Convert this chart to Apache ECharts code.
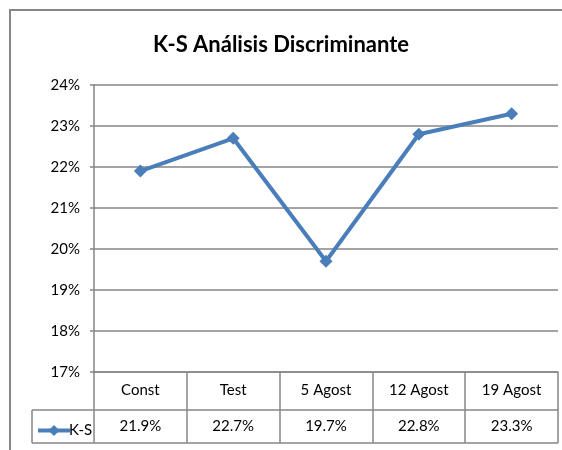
<!DOCTYPE html>
<html>
<head>
<meta charset="utf-8">
<script src="https://cdn.jsdelivr.net/npm/echarts@6/dist/echarts.min.js"></script>
<style>
  html, body { margin: 0; padding: 0; background: #fff; }
  #chart { width: 562px; height: 450px; }
</style>
</head>
<body>
<div id="chart"></div>
<script>
// chart data
const categories = ['Const', 'Test', '5 Agost', '12 Agost', '19 Agost']
const ksValues = [21.9, 22.7, 19.7, 22.8, 23.3]
const seriesName = 'K-S'

const font = 'Lato, "Open Sans", sans-serif'
const gridColor = '#868686'
const lineColor = '#4a7ebb'

const chart = echarts.init(document.getElementById('chart'))

const option = {
  animation: false,
  textStyle: { fontFamily: font },
  title: {
    text: 'K-S Análisis Discriminante',
    left: 'center',
    top: 29,
    textStyle: { fontFamily: font, fontSize: 22, fontWeight: 'bold', color: '#000' },
  },
  legend: {
    left: 31,
    top: 418,
    itemWidth: 32,
    itemHeight: 14,
    itemGap: 0,
    lineStyle: { width: 4 },
    textStyle: { fontFamily: font, fontSize: 15, color: '#000', padding: [0, 0, 0, -6] },
    data: [seriesName],
  },
  grid: { left: 94, right: 4, top: 85, bottom: 78, containLabel: false },
  xAxis: [
    {
      type: 'category',
      data: categories,
      boundaryGap: true,
      axisLine: { show: true, lineStyle: { color: gridColor, width: 1.5 } },
      axisTick: { show: true, length: 71, lineStyle: { color: gridColor, width: 1.5 } },
      axisLabel: { margin: 11, fontSize: 15, color: '#000', fontFamily: font },
    },
    {
      type: 'category',
      data: categories,
      position: 'bottom',
      offset: 38,
      boundaryGap: true,
      axisLine: { show: false },
      axisTick: { show: false },
      axisLabel: {
        margin: 9,
        fontSize: 15,
        color: '#000',
        fontFamily: font,
        formatter: (v, i) => ksValues[i].toFixed(1) + '%',
      },
    },
  ],
  yAxis: {
    type: 'value',
    min: 17,
    max: 24,
    interval: 1,
    axisLine: { show: true, lineStyle: { color: gridColor, width: 1.5 } },
    axisTick: { show: true, length: 4, lineStyle: { color: gridColor, width: 1.5 } },
    axisLabel: { margin: 14, fontSize: 15, color: '#000', fontFamily: font, formatter: (v) => v + '%' },
    splitLine: { show: true, lineStyle: { color: gridColor, width: 1.5 } },
  },
  series: [
    {
      name: seriesName,
      type: 'line',
      data: ksValues,
      symbol: 'diamond',
      symbolSize: 13,
      lineStyle: { color: lineColor, width: 4 },
      itemStyle: { color: lineColor },
    },
  ],
  graphic: [
    // outer chart border
    { type: 'rect', shape: { x: 10, y: 10, width: 600, height: 500 }, style: { fill: 'none', stroke: gridColor, lineWidth: 2 } },
    // data table borders
    { type: 'line', shape: { x1: 32, y1: 410, x2: 558, y2: 410 }, style: { stroke: gridColor, lineWidth: 1.5 } },
    { type: 'line', shape: { x1: 32, y1: 443, x2: 558, y2: 443 }, style: { stroke: gridColor, lineWidth: 1.5 } },
    { type: 'line', shape: { x1: 32, y1: 410, x2: 32, y2: 443 }, style: { stroke: gridColor, lineWidth: 1.5 } },
  ],
}

chart.setOption(option)
</script>
</body>
</html>
